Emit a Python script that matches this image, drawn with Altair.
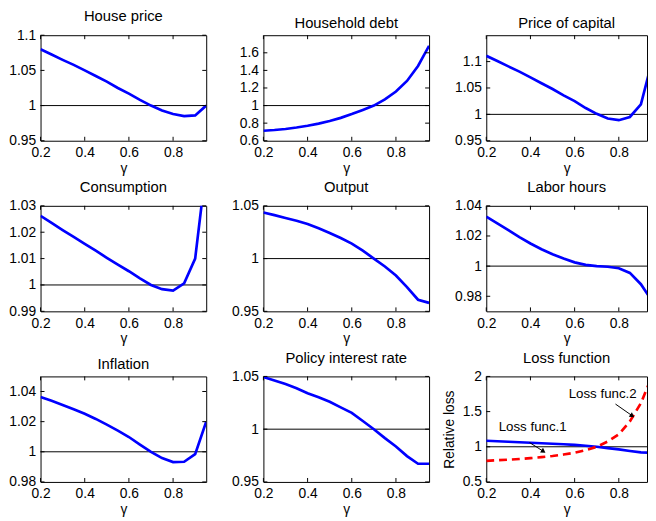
import altair as alt
import pandas as pd

FONT = "Liberation Sans"

gamma = [0.2, 0.25, 0.3, 0.35, 0.4, 0.45, 0.5, 0.55, 0.6, 0.65, 0.7, 0.75, 0.8, 0.85, 0.9, 0.95]

house_price = [1.080, 1.0725, 1.065, 1.0578, 1.050, 1.042, 1.034, 1.025, 1.017, 1.008, 1.000, 0.993, 0.988, 0.985, 0.986, 1.000]
household_debt = [0.714, 0.722, 0.733, 0.750, 0.770, 0.795, 0.825, 0.860, 0.903, 0.950, 1.000, 1.070, 1.160, 1.280, 1.450, 1.680]
price_capital = [1.111, 1.101, 1.091, 1.081, 1.070, 1.059, 1.048, 1.036, 1.025, 1.012, 1.001, 0.992, 0.989, 0.995, 1.019, 1.100]
consumption = [1.0262, 1.0235, 1.0208, 1.0182, 1.0156, 1.0130, 1.0103, 1.0077, 1.0052, 1.0025, 1.0000, 0.9984, 0.9979, 1.0006, 1.0100, 1.0450]
output = [1.0437, 1.0412, 1.0385, 1.0358, 1.0328, 1.0287, 1.0243, 1.0195, 1.0142, 1.0075, 1.0000, 0.9925, 0.9840, 0.9730, 0.9610, 0.9580]
labor_hours = [1.0328, 1.0284, 1.0238, 1.0192, 1.0150, 1.0112, 1.0079, 1.0050, 1.0025, 1.0008, 1.0000, 0.9996, 0.9986, 0.9955, 0.9880, 0.9770]
inflation = [1.0363, 1.0338, 1.0311, 1.0282, 1.0252, 1.0218, 1.0180, 1.0140, 1.0098, 1.0048, 1.0000, 0.9958, 0.9932, 0.9934, 0.9985, 1.0200]
policy_rate = [1.0494, 1.0462, 1.0428, 1.0388, 1.0340, 1.0302, 1.0260, 1.0207, 1.0155, 1.0078, 1.0000, 0.9915, 0.9836, 0.9745, 0.9672, 0.9672]
loss_func_1 = [1.085, 1.078, 1.071, 1.064, 1.057, 1.050, 1.043, 1.036, 1.028, 1.015, 1.000, 0.980, 0.962, 0.940, 0.920, 0.915]
loss_func_2 = [0.800, 0.808, 0.816, 0.826, 0.838, 0.852, 0.869, 0.890, 0.916, 0.952, 1.000, 1.075, 1.178, 1.360, 1.620, 2.000]

titles = ["House price", "Household debt", "Price of capital", "Consumption", "Output",
          "Labor hours", "Inflation", "Policy interest rate", "Loss function"]
y_domains = [[0.95, 1.1], [0.6, 1.8], [0.95, 1.15], [0.99, 1.03], [0.95, 1.05],
             [0.97, 1.04], [0.98, 1.05], [0.95, 1.05], [0.5, 2.0]]
y_ticks = [[0.95, 1.0, 1.05, 1.1], [0.6, 0.8, 1.0, 1.2, 1.4, 1.6], [0.95, 1.0, 1.05, 1.1],
           [0.99, 1.0, 1.01, 1.02, 1.03], [0.95, 1.0, 1.05], [0.98, 1.0, 1.02, 1.04],
           [0.98, 1.0, 1.02, 1.04], [0.95, 1.0, 1.05], [0.5, 1.0, 1.5, 2.0]]
y_formats = [".2~f", ".1~f", ".2~f", ".2~f", ".2~f", ".2~f", ".2~f", ".2~f", ".1~f"]
x_ticks = [0.2, 0.4, 0.6, 0.8]
x_label = "γ"
loss_y_title = "Relative loss"

note_text = ["Loss func.1", "Loss func.2"]
note_x = [0.41, 0.727]
note_y = [1.285, 1.75]
arrow_x = [0.396, 0.785]
arrow_y = [1.06, 1.607]
arrow_x2 = [0.459, 0.861]
arrow_y2 = [0.934, 1.44]
arrow_angle = [33, 35]

series_list = [house_price, household_debt, price_capital, consumption, output,
               labor_hours, inflation, policy_rate, loss_func_1]

W = 168
W_LAST = 163
H = 107
TK = 4


def panel(i):
    col = i % 3
    w = W if col < 2 else W_LAST
    xmax = 0.95 if col < 2 else 0.2 + 0.75 * W_LAST / W
    xs = alt.Scale(domain=[0.2, xmax], nice=False, zero=False)
    ys = alt.Scale(domain=y_domains[i], nice=False, zero=False)
    xaxis = alt.Axis(values=x_ticks, format=".1~f")
    yaxis = alt.Axis(values=y_ticks[i], format=y_formats[i])
    X = alt.X("x:Q", scale=xs, axis=xaxis, title=x_label)
    ytitle = loss_y_title if i == 8 else None
    Y = alt.Y("y:Q", scale=ys, axis=yaxis, title=ytitle)

    one = alt.Chart(pd.DataFrame({"y": [1.0]})).mark_rule(color="black", strokeWidth=1).encode(y=Y)
    df = pd.DataFrame({"x": gamma, "y": series_list[i]})
    line = alt.Chart(df).mark_line(clip=True, color="#0000ff", strokeWidth=2.7).encode(x=X, y=Y)
    layers = [one, line]
    if i == 8:
        df2 = pd.DataFrame({"x": gamma, "y": loss_func_2})
        red = alt.Chart(df2).mark_line(clip=True, color="#ff0000", strokeWidth=2.7,
                                       strokeDash=[8, 5]).encode(x=X, y=Y)
        notes = alt.Chart(pd.DataFrame({"x": note_x, "y": note_y, "t": note_text})).mark_text(
            font=FONT, fontSize=13.5, color="black").encode(x=X, y=Y, text="t:N")
        adf = pd.DataFrame({"x": arrow_x, "y": arrow_y, "x2": arrow_x2, "y2": arrow_y2, "a": arrow_angle})
        arr = alt.Chart(adf).mark_rule(color="black", strokeWidth=1).encode(x=X, y=Y, x2="x2:Q", y2="y2:Q")
        hdf = pd.DataFrame({"x": arrow_x2, "y": arrow_y2, "a": arrow_angle})
        heads = alt.Chart(hdf).mark_point(shape="triangle-right", filled=True, color="black",
                                          size=30, opacity=1).encode(
            x=X, y=Y, angle=alt.Angle("a:Q", scale=None))
        layers += [red, notes, arr, heads]
    xt = pd.DataFrame({"x": x_ticks})
    yt = pd.DataFrame({"y": y_ticks[i]})
    layers.append(alt.Chart(xt).mark_rule(color="black").encode(x=X, y=alt.value(H), y2=alt.value(H - TK)))
    layers.append(alt.Chart(xt).mark_rule(color="black").encode(x=X, y=alt.value(0), y2=alt.value(TK)))
    layers.append(alt.Chart(yt).mark_rule(color="black").encode(y=Y, x=alt.value(0), x2=alt.value(TK)))
    if col < 2:
        layers.append(alt.Chart(yt).mark_rule(color="black").encode(y=Y, x=alt.value(w - TK), x2=alt.value(w)))
    return alt.layer(*layers).properties(width=w, height=H, title=titles[i])


chart = alt.concat(*[panel(i) for i in range(9)], columns=3,
                   spacing={"row": 66, "column": 58}, bounds="flush").properties(
    padding={"left": 0, "top": -3, "right": 0, "bottom": 0}
).configure_view(stroke="black", strokeWidth=1).configure_axis(
    grid=False, ticks=False, domain=False, labelFont=FONT, labelFontSize=14, labelColor="black",
    labelFlush=False, labelOverlap=False, titleFont=FONT, titleFontSize=14,
    titleFontWeight="normal", titleColor="black"
).configure_axisX(labelPadding=5, titlePadding=2
).configure_axisY(labelPadding=5, titlePadding=6
).configure_title(font=FONT, fontSize=15, fontWeight="normal", color="black", offset=0)

chart.save("out.html", embed_options={"renderer": "svg", "actions": False})
